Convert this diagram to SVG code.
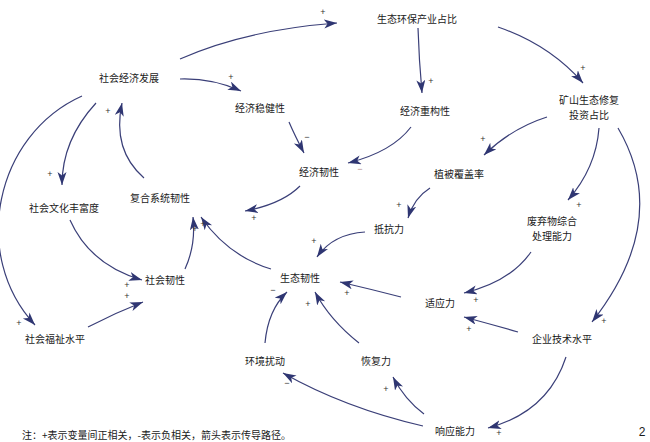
<svg xmlns="http://www.w3.org/2000/svg" width="650" height="442" viewBox="0 0 650 442">
<defs>
<marker id="ah" markerUnits="userSpaceOnUse" markerWidth="14" markerHeight="10" refX="13" refY="4.5" orient="auto">
<path d="M0,0 L13,4.5 L0,9 L3.5,4.5 z" fill="#2f3672"/>
</marker>
<style>
.lbl{font-family:"Noto Sans CJK SC","Liberation Sans",sans-serif;font-size:10px;fill:#1a1a1a;text-anchor:middle;dominant-baseline:central}
.sg{font-family:"Liberation Sans","DejaVu Sans",sans-serif;font-size:9px;fill:#333;text-anchor:middle;dominant-baseline:central}
.c{fill:none;stroke:#3a3f78;stroke-width:1.2;marker-end:url(#ah)}
</style>
</defs>
<rect width="650" height="442" fill="#fff"/>
<g id="connectors">
<path class="c" d="M180,59 Q245,30 337,23"/>
<path class="c" d="M180,79 Q212,78 241,91"/>
<path class="c" d="M289,122 Q295,136 304,153"/>
<path class="c" d="M418,28 Q419,60 422,93"/>
<path class="c" d="M498,27 Q550,45 583,83"/>
<path class="c" d="M411,127 Q392,152 348,163"/>
<path class="c" d="M547,117 Q512,128 484,155"/>
<path class="c" d="M599,128 Q596,168 568,200"/>
<path class="c" d="M618,128 Q672,220 592,322"/>
<path class="c" d="M430,188 Q414,198 408,218"/>
<path class="c" d="M300,186 Q282,204 245,211"/>
<path class="c" d="M365,232 Q333,234 317,257"/>
<path class="c" d="M271,269 Q228,256 201,217"/>
<path class="c" d="M185,269 Q196,245 193,217"/>
<path class="c" d="M144,178 Q112,150 122,103"/>
<path class="c" d="M96,103 Q62,140 62,185"/>
<path class="c" d="M82,96 C-5,135 -30,255 35,325"/>
<path class="c" d="M70,220 Q90,265 142,280"/>
<path class="c" d="M88,327 Q115,313 143,302"/>
<path class="c" d="M401,297 Q370,289 340,282"/>
<path class="c" d="M359,343 Q330,320 315,292"/>
<path class="c" d="M265,343 Q268,310 287,292"/>
<path class="c" d="M531,252 Q510,282 464,293"/>
<path class="c" d="M518,332 Q490,324 464,317"/>
<path class="c" d="M566,357 Q548,412 488,428"/>
<path class="c" d="M424,414 Q405,400 393,377"/>
<path class="c" d="M423,426 Q345,408 283,373"/>
</g>
<g id="signs">
<text class="sg" x="323" y="12">+</text>
<text class="sg" x="231" y="77">+</text>
<text class="sg" x="307" y="137">−</text>
<text class="sg" x="431" y="81">+</text>
<text class="sg" x="583" y="68">+</text>
<text class="sg" x="360" y="169" style="fill:#b08a8a">−</text>
<text class="sg" x="483" y="139">+</text>
<text class="sg" x="579" y="205">+</text>
<text class="sg" x="604" y="321">+</text>
<text class="sg" x="399" y="205">+</text>
<text class="sg" x="254" y="218">+</text>
<text class="sg" x="314" y="241">+</text>
<text class="sg" x="203" y="224">+</text>
<text class="sg" x="195" y="229">+</text>
<text class="sg" x="108" y="111">+</text>
<text class="sg" x="50" y="174">+</text>
<text class="sg" x="19" y="323">+</text>
<text class="sg" x="127" y="285">+</text>
<text class="sg" x="127" y="296">+</text>
<text class="sg" x="347" y="293">+</text>
<text class="sg" x="308" y="304">+</text>
<text class="sg" x="273" y="290">−</text>
<text class="sg" x="476" y="300">+</text>
<text class="sg" x="469" y="329">+</text>
<text class="sg" x="499" y="433">+</text>
<text class="sg" x="386" y="389">+</text>
<text class="sg" x="287" y="383">−</text>
</g>
<g id="n-stcyzb"><text class="lbl" x="417" y="18">生态环保产业占比</text></g>
<g id="n-shjjfz"><text class="lbl" x="129" y="77">社会经济发展</text></g>
<g id="n-jjwjx"><text class="lbl" x="260" y="107">经济稳健性</text></g>
<g id="n-jjcgx"><text class="lbl" x="425" y="110">经济重构性</text></g>
<g id="n-ksxf"><text class="lbl" x="589" y="99">矿山生态修复</text><text class="lbl" x="589" y="114">投资占比</text></g>
<g id="n-jjrx"><text class="lbl" x="319" y="171">经济韧性</text></g>
<g id="n-zbfgl"><text class="lbl" x="459" y="173">植被覆盖率</text></g>
<g id="n-fhxtrx"><text class="lbl" x="160" y="197">复合系统韧性</text></g>
<g id="n-shwhffd"><text class="lbl" x="64" y="207">社会文化丰富度</text></g>
<g id="n-dkl"><text class="lbl" x="389" y="228">抵抗力</text></g>
<g id="n-fqw"><text class="lbl" x="552" y="220">废弃物综合</text><text class="lbl" x="552" y="235">处理能力</text></g>
<g id="n-shrx"><text class="lbl" x="165" y="279">社会韧性</text></g>
<g id="n-strx"><text class="lbl" x="300" y="277">生态韧性</text></g>
<g id="n-syl"><text class="lbl" x="440" y="302">适应力</text></g>
<g id="n-shfzsp"><text class="lbl" x="55" y="338">社会福祉水平</text></g>
<g id="n-qyjssp"><text class="lbl" x="562" y="338">企业技术水平</text></g>
<g id="n-hjrd"><text class="lbl" x="265" y="360">环境扰动</text></g>
<g id="n-hfl"><text class="lbl" x="376" y="360">恢复力</text></g>
<g id="n-xynl"><text class="lbl" x="455" y="430">响应能力</text></g>
<text class="lbl" x="22" y="434" style="text-anchor:start">注：+表示变量间正相关，-表示负相关，箭头表示传导路径。</text>
<text class="lbl" x="642" y="432" style="font-family:'Liberation Sans',sans-serif;font-size:12px">2</text>
</svg>
